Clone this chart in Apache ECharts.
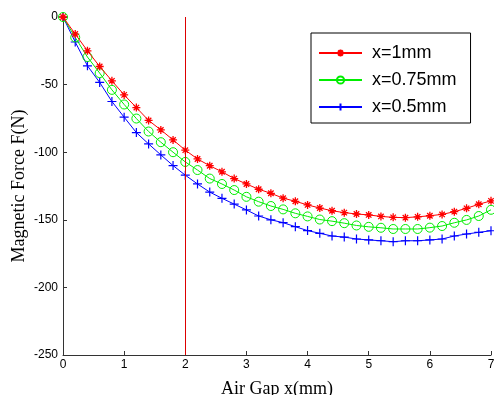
<!DOCTYPE html>
<html>
<head>
<meta charset="utf-8">
<script src="https://cdn.jsdelivr.net/npm/echarts@6/dist/echarts.min.js"></script>
<style>
html,body{margin:0;padding:0;background:#fff;}
#chart{width:494px;height:395px;}
</style>
</head>
<body>
<div id="chart"></div>
<script>
var airGap = [0,0.2,0.4,0.6,0.8,1.0,1.2,1.4,1.6,1.8,2.0,2.2,2.4,2.6,2.8,3.0,3.2,3.4,3.6,3.8,4.0,4.2,4.4,4.6,4.8,5.0,5.2,5.4,5.6,5.8,6.0,6.2,6.4,6.6,6.8,7.0];
var force1mm = [0,-12.6,-25,-36.6,-47.2,-57.6,-67,-76.5,-83.5,-90.9,-98.5,-105,-110,-114.5,-119.5,-123.5,-127.4,-130.4,-134,-136.3,-139,-141.3,-143.3,-144.7,-145.7,-146.4,-147.5,-148.2,-148.4,-147.8,-147,-146,-144,-141.5,-138.5,-136];
var force075mm = [0,-15.1,-29.6,-41.5,-53.9,-64.7,-75.1,-84.7,-92.6,-100,-107.2,-113.2,-119.5,-123.5,-128,-133,-136.6,-139.8,-142.3,-145.2,-147.5,-149.8,-151,-152.5,-154.2,-155.2,-155.9,-156.8,-156.8,-156.8,-155.8,-154.6,-152.2,-150.1,-147.2,-142.6];
var force05mm = [0,-18.5,-36.1,-48.4,-62.5,-74.1,-85.5,-93.9,-102,-109.9,-117,-123.5,-129.5,-134.1,-138.4,-142.7,-147.2,-150,-152.1,-155.1,-158,-160,-162,-162.8,-164.2,-164.9,-165.5,-166.2,-165.5,-165.5,-164.9,-164.2,-162,-160.5,-159.3,-158.1];
var seriesNames = ['x=1mm','x=0.75mm','x=0.5mm'];
var markerX = [2];

function pairs(ys){ return airGap.map(function(x,i){ return [x, ys[i]]; }); }

var starPath = 'path://M5,0L5,10M0,5L10,5M1.6,1.6L8.4,8.4M1.6,8.4L8.4,1.6';
var plusPath = 'path://M5,0L5,10M0,5L10,5';

var chart = echarts.init(document.getElementById('chart'), null, {renderer:'canvas'});
chart.setOption({
  animation:false,
  backgroundColor:'#fff',
  grid:{left:63, right:3, top:17, bottom:40, containLabel:false, outerBoundsMode:'none'},
  legend:{
    orient:'vertical', left:311, top:33,
    padding:[11,14,7,7], itemGap:9, itemWidth:43, itemHeight:9,
    borderColor:'#000', borderWidth:1, backgroundColor:'#fff',
    textStyle:{fontFamily:'Liberation Sans, Arial', fontSize:18, color:'#000', padding:[0,0,0,5]},
    data:seriesNames
  },
  xAxis:{
    type:'value', min:0, max:7, interval:1,
    name:'Air Gap x(mm)', nameLocation:'middle', nameGap:25,
    nameTextStyle:{fontFamily:'Liberation Serif, Times New Roman', fontSize:18, color:'#000'},
    axisLine:{show:true, onZero:false, lineStyle:{color:'#333', width:1}},
    axisTick:{show:true, inside:true, length:4, lineStyle:{color:'#333'}},
    axisLabel:{fontFamily:'Liberation Sans, Arial', fontSize:12, color:'#000', margin:4},
    splitLine:{show:false}
  },
  yAxis:{
    type:'value', min:-250, max:0, interval:50,
    name:'Magnetic Force F(N)', nameLocation:'middle', nameGap:35, nameMoveOverlap:false,
    nameTextStyle:{fontFamily:'Liberation Serif, Times New Roman', fontSize:18, color:'#000'},
    axisLine:{show:true, onZero:false, lineStyle:{color:'#333', width:1}},
    axisTick:{show:true, inside:true, length:4, lineStyle:{color:'#333'}},
    axisLabel:{fontFamily:'Liberation Sans, Arial', fontSize:12, color:'#000', margin:5},
    splitLine:{show:false}
  },
  series:[
    {
      name:seriesNames[0], type:'line', data:pairs(force1mm),
      symbol:starPath, symbolSize:8, showAllSymbol:true, clip:false,
      lineStyle:{color:'#ff0000', width:1},
      itemStyle:{color:'#ff0000', borderColor:'#ff0000', borderWidth:1.3},
      markLine:{
        silent:true, symbol:['none','none'], label:{show:false},
        lineStyle:{color:'#dd0000', type:'solid', width:1},
        data:markerX.map(function(v){ return {xAxis:v}; })
      },
      z:3
    },
    {
      name:seriesNames[1], type:'line', data:pairs(force075mm),
      symbol:'circle', symbolSize:9, showAllSymbol:true, clip:false,
      lineStyle:{color:'#00ee00', width:1},
      itemStyle:{color:'rgba(0,0,0,0)', borderColor:'#00ee00', borderWidth:1},
      z:2
    },
    {
      name:seriesNames[2], type:'line', data:pairs(force05mm),
      symbol:plusPath, symbolSize:9, showAllSymbol:true, clip:false,
      lineStyle:{color:'#0000ff', width:1},
      itemStyle:{color:'#0000ff', borderColor:'#0000ff', borderWidth:1.2},
      z:1
    }
  ]
});
</script>
</body>
</html>
